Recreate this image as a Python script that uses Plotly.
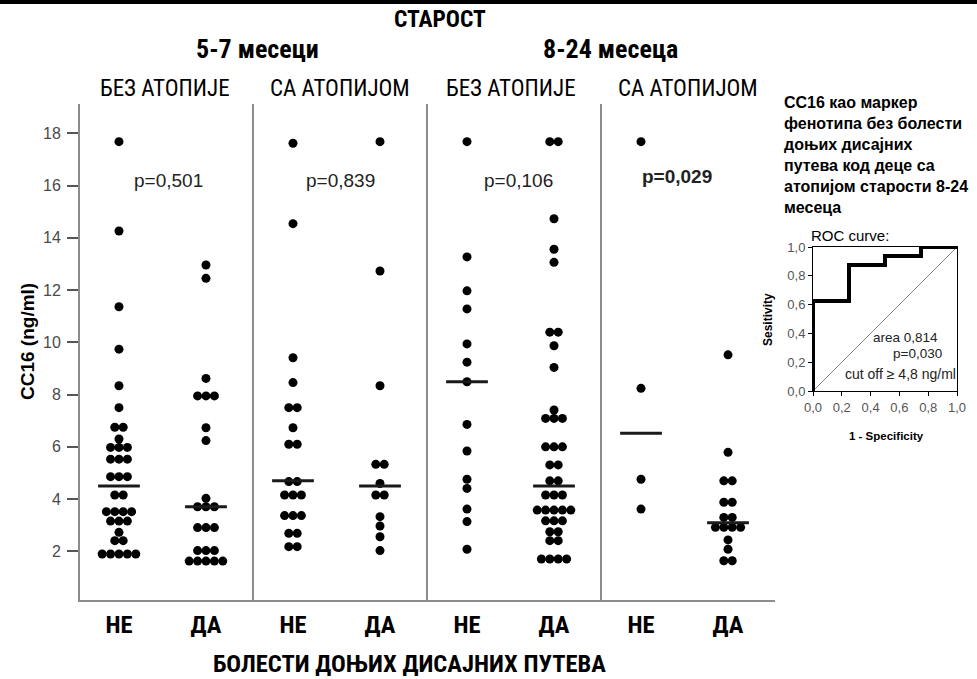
import plotly.graph_objects as go
from collections import Counter

W, H = 977, 679

# ---- data -------------------------------------------------------------
group_labels = ["НЕ", "ДА", "НЕ", "ДА", "НЕ", "ДА", "НЕ", "ДА"]
age_labels = ["5-7 месеци", "8-24 месеца"]
atopy_labels = ["БЕЗ АТОПИЈЕ", "СА АТОПИЈОМ", "БЕЗ АТОПИЈЕ", "СА АТОПИЈОМ"]
p_values = ["p=0,501", "p=0,839", "p=0,106", "p=0,029"]

# CC16 (ng/ml) per group
cc16_57_bez_ne = [17.68, 14.26, 11.36, 9.74, 8.34, 7.50, 6.75, 6.75, 6.30,
                  5.98, 5.98, 5.98, 5.53, 5.53, 5.53, 4.86, 4.86, 4.86,
                  4.16, 4.16, 3.52, 3.52, 3.52, 3.52, 3.16, 3.16, 3.16,
                  2.73, 2.41, 2.41, 1.90, 1.90, 1.90, 1.90, 1.90]
cc16_57_bez_da = [12.96, 12.45, 8.62, 7.95, 7.95, 7.95, 6.73, 6.24, 4.03,
                  3.71, 3.71, 3.71, 2.91, 2.91, 2.91, 2.03, 2.03, 2.03,
                  1.63, 1.63, 1.63, 1.63, 1.63]
cc16_57_sa_ne = [17.62, 14.54, 9.41, 8.46, 7.50, 7.50, 6.73, 6.10, 6.10,
                 4.67, 4.67, 4.16, 4.16, 4.16, 3.37, 3.37, 3.37, 2.69, 2.69,
                 2.18, 2.18]
cc16_57_sa_da = [17.68, 12.73, 8.34, 5.33, 5.33, 4.60, 4.16, 4.16, 3.33,
                 2.97, 2.56, 2.03]
cc16_824_bez_ne = [17.68, 13.27, 11.97, 11.28, 9.94, 9.24, 8.49, 6.86, 5.84,
                   4.76, 4.41, 3.62, 3.14, 2.08]
cc16_824_bez_da = [17.68, 17.68, 14.73, 13.56, 13.06, 10.39, 10.39, 9.87,
                   9.04, 7.41, 7.09, 7.09, 7.09, 6.00, 6.00, 6.00, 5.31, 5.31,
                   4.70, 4.70, 4.16, 4.16, 4.16, 3.58, 3.58, 3.58, 3.58, 3.58,
                   3.17, 3.17, 3.17, 2.75, 2.75, 2.41, 2.41, 1.71, 1.71, 1.71,
                   1.71]
cc16_824_sa_ne = [17.68, 8.24, 4.76, 3.62]
cc16_824_sa_da = [9.52, 5.79, 4.70, 4.70, 3.88, 3.88, 3.30, 3.30, 2.92, 2.92,
                  2.92, 2.92, 2.44, 2.08, 1.64, 1.64]
medians = [4.50, 3.71, 4.70, 4.50, 8.49, 4.50, 6.52, 3.10]

# ROC curve, 8-24 months with atopy
roc_fpr = [0.0, 0.0, 0.25, 0.25, 0.5, 0.5, 0.75, 0.75, 1.0]
roc_tpr = [0.0, 0.625, 0.625, 0.875, 0.875, 0.9375, 0.9375, 1.0, 1.0]
roc_ticks = [0.0, 0.2, 0.4, 0.6, 0.8, 1.0]
roc_ticktext = ["0,0", "0,2", "0,4", "0,6", "0,8", "1,0"]
roc_title_lines = ["СС16 као маркер", "фенотипа без болести", "доњих дисајних",
                   "путева код деце са", "атопијом старости 8-24", "месеца"]

groups = [cc16_57_bez_ne, cc16_57_bez_da, cc16_57_sa_ne, cc16_57_sa_da,
          cc16_824_bez_ne, cc16_824_bez_da, cc16_824_sa_ne, cc16_824_sa_da]

# ---- helpers ----------------------------------------------------------
SANS = "Liberation Sans, Arial, sans-serif"
NARROW = "Roboto Condensed, Liberation Sans, Arial, sans-serif"
DOT_STEP = 0.0966      # horizontal spacing of tied points (category units)
MED_HALF = 0.24        # half width of the median bar


def px(x):
    return x / W


def py(y):
    return 1 - y / H


def swarm(vals, center):
    """Spread tied values side by side around the group centre."""
    xs, ys = [], []
    for v, n in Counter(vals).items():
        for k in range(n):
            xs.append(center + (k - (n - 1) / 2) * DOT_STEP)
            ys.append(v)
    return xs, ys


fig = go.Figure()

for i, vals in enumerate(groups):
    xs, ys = swarm(vals, i)
    fig.add_trace(go.Scatter(x=xs, y=ys, mode="markers",
                             marker=dict(size=9, color="black"),
                             hoverinfo="y", showlegend=False))

mx, my = [], []
for i, m in enumerate(medians):
    mx += [i - MED_HALF, i + MED_HALF, None]
    my += [m, m, None]
fig.add_trace(go.Scatter(x=mx, y=my, mode="lines",
                         line=dict(color="#1a1a1a", width=3),
                         hoverinfo="skip", showlegend=False))

# ROC inset
fig.add_trace(go.Scatter(x=[0, 1], y=[0, 1], mode="lines",
                         line=dict(color="#8a8a8a", width=1),
                         xaxis="x2", yaxis="y2", hoverinfo="skip",
                         showlegend=False))
fig.add_trace(go.Scatter(x=roc_fpr, y=roc_tpr, mode="lines",
                         line=dict(color="black", width=4),
                         xaxis="x2", yaxis="y2", cliponaxis=False,
                         showlegend=False))

# ---- layout -----------------------------------------------------------
PLOT_TOP, PLOT_BOT, PLOT_L, PLOT_R = 104, 600, 80, 775
dividers = [1.54, 3.54, 5.54]

shapes = [dict(type="line", xref="x", yref="paper", x0=d, x1=d,
               y0=py(PLOT_BOT), y1=py(PLOT_TOP),
               line=dict(color="#8c8c8c", width=2)) for d in dividers]
shapes.append(dict(type="rect", xref="paper", yref="paper", x0=0, x1=1,
                   y0=py(4), y1=1.0, fillcolor="black", line=dict(width=0)))

ann = []


def text(x, y, s, size, bold=False, color="black", anchor="center",
         family=SANS, **kw):
    ann.append(dict(x=px(x), y=py(y), xref="paper", yref="paper", text=s,
                    showarrow=False, xanchor=anchor, yanchor="middle",
                    font=dict(family=family, size=size, color=color,
                              weight="bold" if bold else "normal"), **kw))


text(440, 19, "СТАРОСТ", 23.5, bold=True, family=NARROW)
text(257, 49, age_labels[0], 26, bold=True, family=NARROW)
text(610, 49, age_labels[1], 26, bold=True, family=NARROW)
for x, s in zip([165, 340, 511, 688], atopy_labels):
    text(x, 89, s, 23, family=NARROW)
for x, s, b in zip([168, 340, 518, 677], p_values, [0, 0, 0, 1]):
    text(x, 181 if not b else 177, s, 19, bold=bool(b), color="#222")
text(409, 663, "БОЛЕСТИ ДОЊИХ ДИСАЈНИХ ПУТЕВА", 24.5, bold=True,
     family=NARROW)
text(27, 342, "CC16 (ng/ml)", 19, bold=True, textangle=-90)

for k, line in enumerate(roc_title_lines):
    text(782, 102 + 21 * k, line, 16, bold=True, anchor="left")
text(850, 235, "ROC curve:", 15)
text(940, 337, "area 0,814", 13.5, anchor="right", color="#222")
text(917, 353, "p=0,030", 13.5, color="#222")
text(958, 374, "cut off ≥ 4,8 ng/ml", 14, anchor="right", color="#222")
text(886, 436, "1 - Specificity", 11.5, bold=True)
text(768, 320, "Sesitivity", 12, bold=True, textangle=-90)

fig.update_layout(
    width=W, height=H,
    margin=dict(l=0, r=0, t=0, b=0, autoexpand=False),
    paper_bgcolor="white", plot_bgcolor="white",
    shapes=shapes, annotations=ann,
    xaxis=dict(domain=[px(PLOT_L), px(PLOT_R)], range=[-0.448, 7.54],
               tickvals=list(range(8)), ticktext=group_labels,
               tickfont=dict(family=NARROW, size=24.5, color="black",
                             weight="bold"),
               ticks="", ticklabelstandoff=2,
               showline=True, linecolor="#8c8c8c", linewidth=2,
               showgrid=False, zeroline=False),
    yaxis=dict(domain=[py(PLOT_BOT), py(PLOT_TOP)], range=[0.14, 19.12],
               tickvals=list(range(2, 19, 2)),
               tickfont=dict(family=SANS, size=16, color="#4a4a4a"),
               ticks="outside", ticklen=11, tickwidth=1.5, tickcolor="#555",
               ticklabelstandoff=3,
               showline=True, linecolor="#8c8c8c", linewidth=2,
               showgrid=False, zeroline=False),
    xaxis2=dict(domain=[px(813), px(957)], range=[0, 1], anchor="y2",
                tickvals=roc_ticks, ticktext=roc_ticktext,
                tickfont=dict(family=SANS, size=13, color="#555"),
                ticks="outside", ticklen=4, tickcolor="black",
                showline=True, mirror=True, linecolor="black", linewidth=1,
                showgrid=False, zeroline=False),
    yaxis2=dict(domain=[py(391), py(247)], range=[0, 1], anchor="x2",
                tickvals=roc_ticks, ticktext=roc_ticktext,
                tickfont=dict(family=SANS, size=13, color="#555"),
                ticks="outside", ticklen=4, tickcolor="black",
                showline=True, mirror=True, linecolor="black", linewidth=1,
                showgrid=False, zeroline=False),
)

fig.write_html("out.html")
